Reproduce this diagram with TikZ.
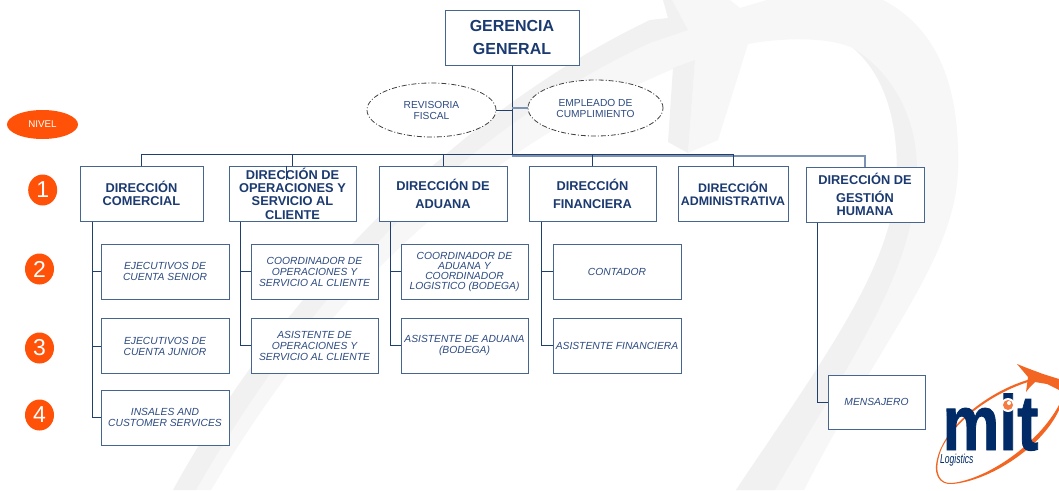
\documentclass[tikz,border=0pt]{standalone}
\usepackage{fontspec}
\setmainfont{Liberation Sans}
\newfontfamily\logofont[FakeBold=1.2]{Liberation Sans Bold}
\definecolor{navy}{HTML}{1F3F6E}
\definecolor{txtnavy}{HTML}{1B3A70}
\definecolor{itnavy}{HTML}{2C4A80}
\definecolor{softline}{HTML}{7C92B4}
\definecolor{boxline}{HTML}{47668F}
\definecolor{nivelor}{HTML}{FF5208}
\definecolor{wmlight}{HTML}{F7F7F7}
\definecolor{wmdark}{HTML}{F1F1F1}
\definecolor{logonavy}{HTML}{002B66}
\definecolor{logoor}{HTML}{F26522}
\tikzset{
  gerbox/.style={draw=boxline,line width=1pt,fill=white,inner sep=0pt,align=center,text=txtnavy,font=\fontsize{16}{23}\selectfont\bfseries},
  dirbox/.style={draw=boxline,line width=1pt,fill=white,inner sep=0pt,align=center,text=txtnavy,font=\fontsize{12.8}{13.4}\selectfont\bfseries,minimum height=55},
  subbox/.style={draw=boxline,line width=.85pt,fill=white,inner sep=0pt,align=center,text=itnavy,font=\fontsize{10.3}{11}\selectfont\itshape,minimum height=55},
  oval/.style={ellipse,draw=black!75,line width=.8pt,dash pattern=on 5pt off 2pt on 1pt off 2pt,fill=white,inner sep=0pt,align=center,text=itnavy,font=\fontsize{10.2}{11}\selectfont},
  numdot/.style={ellipse,fill=nivelor,text=white,inner sep=0pt,minimum width=29,minimum height=31,font=\fontsize{23}{23}\selectfont},
  conn/.style={draw=navy,line width=.9pt},
  softconn/.style={draw=softline,line width=1.1pt},
}
\usetikzlibrary{shapes.geometric,calc}
\begin{document}
\begin{tikzpicture}[x=1pt,y=-1pt]
\useasboundingbox (0,0) rectangle (1059,490);
\fill[white] (0,0) rectangle (1059,490);
% watermark
\fill[wmlight] (211,490) .. controls (300,340) and (440,160) .. (695,60) -- (688,153) -- (718,140) -- (748,44)
  .. controls (780,38) and (825,36) .. (853,48) .. controls (885,75) and (897,120) .. (897,170)
  .. controls (897,260) and (830,350) .. (736,490) -- (804,490)
  .. controls (880,340) and (955,260) .. (958,170) .. controls (960,90) and (940,30) .. (883,0)
  -- (767,0) -- (740,8) -- (730,0) -- (672,0) -- (688,30) -- (650,43)
  .. controls (430,145) and (285,335) .. (196,490) -- cycle;
\fill[wmdark] (173,490) .. controls (255,340) and (420,130) .. (650,20) -- (668,18) -- (663,0) -- (672,0) -- (688,30) -- (650,43)
  .. controls (430,145) and (285,335) .. (196,490) -- cycle;
\fill[wmdark] (668,142) -- (673,68) -- (695,60) -- (688,153) -- cycle;
\fill[wmdark] (853,48) .. controls (885,75) and (897,120) .. (897,170) .. controls (897,260) and (830,350) .. (736,490)
  -- (775,490) .. controls (850,360) and (917,270) .. (917,170) .. controls (917,120) and (895,75) .. (853,48) -- cycle;
% nodes
\node[gerbox,minimum width=134,minimum height=55] (ger) at (512,37.5) {GERENCIA\\GENERAL};
\node[oval,minimum width=129,minimum height=54] (rev) at (431.5,110) {REVISORIA\\FISCAL};
\node[oval,minimum width=135,minimum height=56] (emp) at (595.5,108) {EMPLEADO DE\\CUMPLIMIENTO};
\coordinate (bus) at (512,154.5);
\coordinate (softbus) at (512,156);
\node[dirbox,minimum width=123] (com) at (141.5,193.5) {DIRECCIÓN\\COMERCIAL};
\node[dirbox,minimum width=127] (ope) at (292.5,193.5) {DIRECCIÓN DE\\OPERACIONES Y\\SERVICIO AL\\CLIENTE};
\node[dirbox,minimum width=128,font=\fontsize{12.8}{18}\selectfont\bfseries] (adu) at (443,193.5) {DIRECCIÓN DE\\ADUANA};
\node[dirbox,minimum width=127,font=\fontsize{12.8}{18}\selectfont\bfseries] (fin) at (592.5,193.5) {DIRECCIÓN\\FINANCIERA};
\node[dirbox,minimum width=110,font=\fontsize{12.4}{13.4}\selectfont\bfseries] (adm) at (733,193.5) {DIRECCIÓN\\ADMINISTRATIVA};
\node[dirbox,minimum width=118] (ges) at (865,194.5) {DIRECCIÓN DE\\[4.4pt]GESTIÓN\\HUMANA};
\node[subbox,minimum width=128] (s1) at (165,271.5) {EJECUTIVOS DE\\CUENTA SENIOR};
\node[subbox,minimum width=128] (s2) at (165,346) {EJECUTIVOS DE\\CUENTA JUNIOR};
\node[subbox,minimum width=128] (s3) at (165,417.5) {INSALES AND\\CUSTOMER SERVICES};
\node[subbox,minimum width=127] (o1) at (314.5,271.5) {COORDINADOR DE\\OPERACIONES Y\\SERVICIO AL CLIENTE};
\node[subbox,minimum width=127] (o2) at (314.5,345.5) {ASISTENTE DE\\OPERACIONES Y\\SERVICIO AL CLIENTE};
\node[subbox,minimum width=127,font=\fontsize{10.3}{10}\selectfont\itshape] (a1) at (464.5,271.5) {COORDINADOR DE\\ADUANA Y\\COORDINADOR\\LOGISTICO (BODEGA)};
\node[subbox,minimum width=127] (a2) at (464.5,345.5) {ASISTENTE DE ADUANA\\(BODEGA)};
\node[subbox,minimum width=128] (f1) at (617,271.5) {CONTADOR};
\node[subbox,minimum width=128] (f2) at (617,345.5) {ASISTENTE FINANCIERA};
\node[subbox,minimum width=97,minimum height=54] (g1) at (876.5,402) {MENSAJERO};
% connectors
\draw[conn] (ger.south) -- (bus);
\draw[softconn] (softbus) -| (ges.north);
\draw[conn] (com.north) |- (bus);
\draw[conn] (ope.north) |- (bus);
\draw[conn] (adu.north) |- (bus);
\draw[conn] (fin.north) |- (bus);
\draw[conn] (bus) -| (adm.north);
\draw[conn,line width=.7pt] (ope.north) ++(-6,0) -- ++(0,14);
\draw[conn] (rev.east) -- (rev.east -| ger.south);
\draw[softconn] (emp.west) -- (emp.west -| ger.south);
\draw[conn] ($(com.south west)+(12.5,0)$) |- (s1.west);
\draw[conn] ($(com.south west)+(12.5,0)$) |- (s2.west);
\draw[conn] ($(com.south west)+(12.5,0)$) |- (s3.west);
\draw[conn] ($(ope.south west)+(12,0)$) |- (o1.west);
\draw[conn] ($(ope.south west)+(12,0)$) |- (o2.west);
\draw[conn] ($(adu.south west)+(12,0)$) |- (a1.west);
\draw[conn] ($(adu.south west)+(12,0)$) |- (a2.west);
\draw[conn] ($(fin.south west)+(12.5,0)$) |- (f1.west);
\draw[conn] ($(fin.south west)+(12.5,0)$) |- (f2.west);
\draw[conn] ($(ges.south west)+(12,0)$) |- (g1.west);
% level markers
\node[ellipse,fill=nivelor,text=white,inner sep=0pt,minimum width=71,minimum height=29,font=\fontsize{9.8}{11}\selectfont] (niv) at (42.5,124.5) {NIVEL};
\node[numdot] (n1) at (42.7,190) {1};
\node[numdot] (n2) at (39.5,269) {2};
\node[numdot] (n3) at (39.5,348) {3};
\node[numdot] (n4) at (39.5,415) {4};
% logo
\fill[logoor] (1035,378) .. controls (1000,386) and (955,415) .. (940,450)
  .. controls (930,475) and (940,485) .. (952,484)
  .. controls (990,481) and (1042,447) .. (1059,410) -- (1059,405)
  .. controls (1038,444) and (988,479) .. (952,483)
  .. controls (941,484) and (932,475) .. (941,450)
  .. controls (956,417) and (1000,389) .. (1035,380) -- cycle;
\fill[logoor] (1017,364) -- (1027,368) -- (1043,374) -- (1059,379) -- (1059,390) -- (1047,384) -- (1035,382) -- (1030,387) -- (1026,392) -- (1028,377) -- cycle;
\node[inner sep=0pt,anchor=base,text=logonavy,font=\fontsize{78}{78}\logofont,xscale=.82,transform shape] (mit) at (990.5,450) {mit};
\fill[white] (1008,405) circle (7);
\fill[logoor!85] (1008,405) circle (5);
\fill[white] (1009,403) circle (2);
\node[inner sep=0pt,anchor=base west,text=logonavy,font=\fontsize{13}{13}\selectfont\itshape,xscale=.66,transform shape] (logi) at (940,463.5) {Logistics};
\end{tikzpicture}
\end{document}
